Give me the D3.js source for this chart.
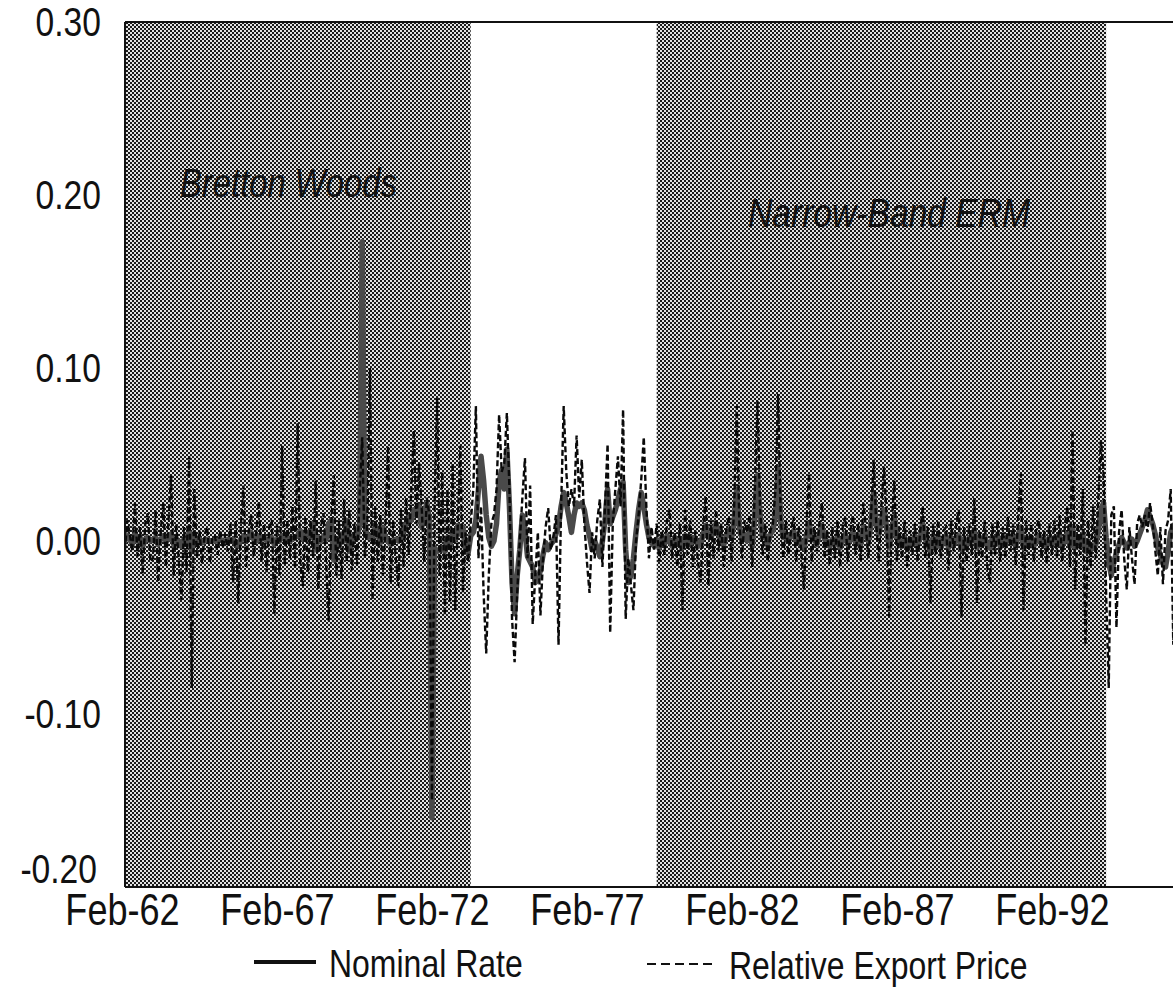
<!DOCTYPE html>
<html><head><meta charset="utf-8">
<script src="https://cdn.jsdelivr.net/npm/d3@7"></script>
<style>html,body{margin:0;padding:0;background:#fff;overflow:hidden}</style>
</head><body>
<svg id="c" width="1173" height="989"></svg>
<script>
// Monthly changes, first month = Feb-62
const nominalRate = [
 0.002, 0.000, 0.003, 0.001,-0.002, 0.004, 0.000, 0.002,-0.003, 0.001, 0.002, 0.000,
 0.001, 0.002,-0.002, 0.001, 0.003, 0.000, 0.001, 0.004,-0.002, 0.001, 0.000,-0.003,
 0.001,-0.002, 0.005,-0.006, 0.003, 0.000, 0.001,-0.001, 0.000, 0.001, 0.000, 0.000,
 0.000, 0.000, 0.001, 0.000, 0.000, 0.001, 0.000, 0.001,-0.002,-0.003, 0.001, 0.003,
 0.000, 0.002, 0.005, 0.001, 0.000, 0.003, 0.001, 0.002, 0.000, 0.001, 0.002,-0.002,
 0.001, 0.000, 0.003, 0.001, 0.002, 0.000, 0.001, 0.002, 0.003, 0.006, 0.001, 0.004,
 0.005, 0.002, 0.010,-0.005, 0.002, 0.000, 0.003, 0.001, 0.010, 0.012,-0.011, 0.000,
-0.003, 0.004, 0.000, 0.012,-0.006, 0.002, 0.003, 0.002, 0.010, 0.173, 0.010, 0.002,
 0.003, 0.001, 0.009, 0.004,-0.001, 0.008, 0.002, 0.000,-0.002, 0.000, 0.001, 0.000,
 0.002, 0.006, 0.010, 0.014, 0.012, 0.018, 0.016, 0.020, 0.008, 0.015, 0.022, 0.012,
-0.160,-0.004,-0.006,-0.005,-0.004,-0.006, 0.002,-0.003, 0.004, 0.001, 0.009, 0.004,
 0.008,-0.005,-0.007, 0.003, 0.005, 0.012, 0.030, 0.049, 0.035, 0.015, 0.002,-0.003,
 0.000, 0.010, 0.034, 0.041, 0.030, 0.053, 0.020,-0.024,-0.042,-0.020,-0.005, 0.015,
 0.006,-0.009,-0.012,-0.015,-0.024,-0.022,-0.017,-0.008,-0.001,-0.005,-0.002, 0.000,
 0.004, 0.009, 0.020, 0.028, 0.022, 0.014, 0.005, 0.015, 0.022, 0.020, 0.022, 0.018,
 0.009, 0.003,-0.005, 0.000,-0.004,-0.009, 0.000, 0.012, 0.030, 0.010, 0.014, 0.018,
 0.024, 0.030, 0.034,-0.005,-0.024,-0.020,-0.010, 0.005, 0.018, 0.028, 0.020, 0.010,
 0.002,-0.001,-0.003, 0.001,-0.004, 0.002,-0.002, 0.003, 0.000,-0.003, 0.002,-0.002,
 0.001,-0.004, 0.003, 0.000,-0.002, 0.002, 0.001,-0.003,-0.002, 0.004, 0.009, 0.002,
 0.002, 0.006, 0.010, 0.004, 0.001,-0.002, 0.003, 0.006, 0.002, 0.012, 0.030, 0.008,
 0.002, 0.004, 0.000, 0.005,-0.003, 0.015, 0.038, 0.015, 0.002, 0.003,-0.002, 0.004,
 0.006, 0.015, 0.042, 0.012, 0.002, 0.004, 0.000, 0.003, 0.006, 0.000, 0.002,-0.002,
-0.004, 0.003, 0.010, 0.002, 0.001,-0.002, 0.004, 0.009, 0.001, 0.000,-0.003, 0.001,
-0.002, 0.002,-0.004, 0.001, 0.004,-0.002, 0.001, 0.005,-0.001, 0.003,-0.002, 0.008,
 0.003, 0.000, 0.010, 0.028, 0.010, 0.004, 0.012, 0.018, 0.008,-0.004, 0.006, 0.014,
 0.002, 0.000,-0.003, 0.002,-0.004, 0.001,-0.002, 0.003,-0.002, 0.002, 0.010, 0.001,
-0.002,-0.006, 0.002,-0.003, 0.002,-0.004, 0.000, 0.003,-0.004, 0.002,-0.002, 0.001,
 0.003,-0.005, 0.001,-0.003, 0.002, 0.000, 0.006,-0.004, 0.002,-0.002, 0.003,-0.003,
-0.004, 0.002,-0.002, 0.003,-0.003, 0.001,-0.002, 0.003, 0.000, 0.002,-0.003, 0.004,
 0.008,-0.004, 0.002,-0.002, 0.002,-0.003, 0.001, 0.003,-0.002, 0.001,-0.003, 0.002,
-0.002, 0.002,-0.002, 0.003,-0.003, 0.001, 0.004,-0.003, 0.008,-0.004, 0.001,-0.002,
 0.004,-0.006, 0.000,-0.005,-0.004,-0.002, 0.006, 0.018, 0.022, 0.002,-0.012,-0.020,
-0.012,-0.007,-0.002, 0.002,-0.001,-0.004,-0.001, 0.001,-0.003, 0.000, 0.004, 0.008,
 0.012, 0.018, 0.014, 0.010, 0.004,-0.004,-0.008,-0.013,-0.015,-0.006, 0.005, 0.009,
 0.006, 0.000, 0.004,-0.004, 0.002, 0.003,-0.003, 0.005, 0.000, 0.002,-0.002, 0.003
];
const relativeExportPrice = [
 0.005,-0.008, 0.012, 0.004,-0.006, 0.022,-0.009, 0.008,-0.019, 0.010, 0.016,-0.012,
-0.010, 0.018,-0.024, 0.006, 0.022,-0.015, 0.012, 0.038,-0.020, 0.010,-0.012,-0.034,
 0.008,-0.018, 0.049,-0.085, 0.030,-0.010, 0.006,-0.013, 0.004, 0.008,-0.013, 0.002,
 0.003,-0.008, 0.006,-0.004, 0.004,-0.006, 0.010,-0.024, 0.012,-0.036, 0.008, 0.032,
-0.015, 0.005, 0.015,-0.009, 0.006, 0.023,-0.012, 0.010,-0.018, 0.008, 0.012,-0.042,
 0.010,-0.020, 0.055,-0.014, 0.012,-0.010, 0.020,-0.016, 0.068,-0.012,-0.026, 0.014,
-0.018, 0.012,-0.010, 0.035,-0.028, 0.008, 0.016,-0.012,-0.046, 0.010, 0.038,-0.020,
 0.012,-0.022, 0.024,-0.012, 0.018,-0.017, 0.010,-0.014, 0.028, 0.060,-0.010, 0.010,
 0.100,-0.034, 0.020,-0.012, 0.015,-0.020, 0.008, 0.055,-0.024, 0.012,-0.010,-0.026,
 0.018,-0.015, 0.025,-0.008, 0.030, 0.064, 0.010, 0.045, 0.020,-0.012, 0.025, 0.015,
-0.150, 0.020, 0.083,-0.020, 0.040,-0.043, 0.030,-0.035, 0.045,-0.040, 0.010, 0.055,
-0.030, 0.005,-0.012, 0.010, 0.030, 0.078,-0.010, 0.020,-0.030,-0.065,-0.020, 0.010,
 0.015, 0.030, 0.073, 0.040, 0.045, 0.074, 0.030,-0.045,-0.070,-0.030, 0.000, 0.025,
 0.048,-0.010, 0.032,-0.048,-0.020, 0.005,-0.043,-0.010, 0.008, 0.019,-0.005, 0.002,
 0.015,-0.060, 0.020, 0.078, 0.040, 0.020, 0.030, 0.020, 0.061, 0.025, 0.047, 0.010,
-0.012,-0.030, 0.005,-0.010, 0.012, 0.024,-0.015, 0.020, 0.056,-0.053, 0.010, 0.030,
 0.049, 0.020, 0.076,-0.045,-0.010,-0.025,-0.040, 0.000, 0.015, 0.035, 0.060, 0.020,
-0.010, 0.008,-0.005, 0.010,-0.012, 0.006,-0.008, 0.012, 0.018,-0.010, 0.005,-0.015,
 0.010,-0.040, 0.018,-0.008, 0.012,-0.015, 0.006,-0.012,-0.024, 0.008, 0.026,-0.026,
 0.012,-0.010, 0.018,-0.006, 0.010,-0.015, 0.008, 0.014,-0.012, 0.020, 0.078, 0.010,
-0.010, 0.012, 0.005, 0.015,-0.015, 0.030, 0.081, 0.020,-0.008, 0.010,-0.012, 0.006,
 0.010, 0.030, 0.085, 0.015,-0.010, 0.012,-0.008, 0.006, 0.014,-0.012, 0.008,-0.006,
-0.028, 0.010, 0.039,-0.012, 0.008,-0.006, 0.010, 0.022,-0.010, 0.006,-0.014, 0.008,
-0.010, 0.012,-0.015, 0.008, 0.014,-0.012, 0.006, 0.015,-0.008, 0.010,-0.012, 0.022,
 0.008,-0.010, 0.015, 0.047, 0.010,-0.012, 0.020, 0.043, 0.015,-0.044, 0.010, 0.035,
-0.012, 0.008,-0.010, 0.012,-0.015, 0.006,-0.008, 0.010,-0.012, 0.005, 0.020,-0.010,
 0.008,-0.036, 0.010,-0.008, 0.012,-0.010, 0.006, 0.008,-0.017, 0.012,-0.006, 0.010,
 0.018,-0.044, 0.008,-0.012, 0.010,-0.008, 0.025,-0.036, 0.006,-0.010, 0.012,-0.015,
-0.024, 0.010,-0.008, 0.012,-0.012, 0.008,-0.010, 0.014,-0.006, 0.010,-0.014, 0.015,
 0.039,-0.040, 0.012,-0.008, 0.010,-0.012, 0.008, 0.012,-0.010, 0.006,-0.013, 0.010,
-0.008, 0.012,-0.010, 0.015,-0.012, 0.008, 0.020,-0.015, 0.064,-0.028, 0.010,-0.008,
 0.030,-0.060, 0.012,-0.015, 0.020,-0.010, 0.025, 0.058, 0.040,-0.030,-0.085, 0.015,
 0.020,-0.050, 0.005, 0.018,-0.010,-0.028, 0.008,-0.010,-0.025, 0.010, 0.015, 0.008,
 0.015, 0.005, 0.022, 0.010,-0.005,-0.020, 0.008,-0.025, 0.006, 0.012, 0.030,-0.060,
 0.020,-0.010, 0.015,-0.020, 0.010, 0.005,-0.012, 0.018,-0.008, 0.010,-0.015, 0.012
];
const tickMonths = [0, 60, 120, 180, 240, 300, 360];
const tickLabels = ["Feb-62", "Feb-67", "Feb-72", "Feb-77", "Feb-82", "Feb-87", "Feb-92"];
const yTicks = [-0.2, -0.1, 0, 0.1, 0.2, 0.3];
const yTickLabels = ["-0.20", "-0.10", "0.00", "0.10", "0.20", "0.30"];
const regimeNames = ["Bretton Woods", "Narrow-Band ERM"];
const regimeStart = [0, 207];
const regimeEnd = [135, 381];
const seriesNames = ["Nominal Rate", "Relative Export Price"];

(function () {
const FONT = "'Liberation Sans', Arial, Helvetica, sans-serif";
const svg = d3.select("#c");
const pL = 125, pT = 22, pB = 887, pxPerMonth = 2.583;
const x = d3.scaleLinear().domain([0, 420]).range([pL - 3, pL - 3 + 420 * pxPerMonth]);
const y = d3.scaleLinear().domain([-0.2, 0.3]).range([pB, pT]);
const sx = 0.82; // narrow face

const defs = svg.append("defs");
const pat = defs.append("pattern").attr("id", "half").attr("patternUnits", "userSpaceOnUse")
  .attr("width", 4).attr("height", 4);
pat.append("rect").attr("width", 4).attr("height", 4).attr("fill", "#e2e2e2");
pat.append("rect").attr("x", 0).attr("y", 0).attr("width", 2).attr("height", 2).attr("fill", "#1a1a1a");
pat.append("rect").attr("x", 2).attr("y", 2).attr("width", 2).attr("height", 2).attr("fill", "#1a1a1a");
defs.append("clipPath").attr("id", "plot").append("rect")
  .attr("x", pL).attr("y", pT).attr("width", 1200).attr("height", pB - pT);

svg.append("g").attr("clip-path", "url(#plot)").selectAll("rect").data(regimeNames).join("rect")
  .attr("x", (d, i) => x(regimeStart[i])).attr("y", pT)
  .attr("width", (d, i) => x(regimeEnd[i]) - x(regimeStart[i]))
  .attr("height", pB - pT).attr("fill", "url(#half)");

const labelPos = [[180, 197], [748, 227]];
svg.append("g").selectAll("text").data(regimeNames).join("text")
  .attr("transform", (d, i) => `translate(${labelPos[i][0]},${labelPos[i][1]}) scale(${sx},1)`)
  .attr("font-family", FONT).attr("font-style", "italic").attr("font-size", (d, i) => i === 0 ? 40 : 41)
  .attr("fill", "#111").text(d => d);

const g = svg.append("g").attr("clip-path", "url(#plot)");
const line = arr => d3.line().x((d, i) => x(i)).y(d => y(d))(arr);
g.append("path").attr("d", line(nominalRate)).attr("fill", "none")
  .attr("stroke", "#4a4a4a").attr("stroke-width", 5.5).attr("stroke-linejoin", "round");
g.append("path").attr("d", line(relativeExportPrice)).attr("fill", "none")
  .attr("stroke", "#0a0a0a").attr("stroke-width", 2.4).attr("stroke-dasharray", "6,3");

svg.append("line").attr("x1", pL).attr("x2", pL).attr("y1", pT).attr("y2", pB).attr("stroke", "#111").attr("stroke-width", 2);
svg.append("line").attr("x1", pL).attr("x2", 1173).attr("y1", pT).attr("y2", pT).attr("stroke", "#111").attr("stroke-width", 2);
svg.append("line").attr("x1", pL).attr("x2", 1173).attr("y1", pB).attr("y2", pB).attr("stroke", "#111").attr("stroke-width", 2);

const ya = svg.append("g").attr("transform", `translate(${pL},0)`)
  .call(d3.axisLeft(y).tickValues(yTicks).tickFormat((d, i) => yTickLabels[i]).tickSize(0));
ya.select(".domain").remove();
ya.selectAll("text").attr("font-family", FONT).attr("font-size", 41).attr("fill", "#111")
  .attr("x", -24 / sx).attr("dy", "0.34em").attr("transform", `scale(${sx},1)`);
ya.selectAll(".tick").filter(d => d === -0.2).select("text").attr("x", -28 / sx).attr("dy", "-0.1em");

const xa = svg.append("g").attr("transform", `translate(0,${pB})`)
  .call(d3.axisBottom(x).tickValues(tickMonths).tickFormat((d, i) => tickLabels[i]).tickSize(0));
xa.select(".domain").remove();
xa.selectAll(".tick text").attr("font-family", FONT).attr("font-size", 44).attr("fill", "#111")
  .attr("y", 38).attr("dy", 0).attr("transform", `scale(${sx},1)`)
  .attr("x", 0);

const lg = svg.append("g");
lg.append("line").attr("x1", 254).attr("x2", 316).attr("y1", 962).attr("y2", 962).attr("stroke", "#111").attr("stroke-width", 4);
lg.append("text").attr("transform", `translate(329,977) scale(${sx},1)`).attr("font-family", FONT).attr("font-size", 39).attr("fill", "#111").text(seriesNames[0]);
lg.append("line").attr("x1", 647).attr("x2", 712).attr("y1", 964).attr("y2", 964).attr("stroke", "#111").attr("stroke-width", 2).attr("stroke-dasharray", "9,5");
lg.append("text").attr("transform", `translate(729,979) scale(${sx},1)`).attr("font-family", FONT).attr("font-size", 39).attr("fill", "#111").text(seriesNames[1]);
})();
</script>
</body></html>
